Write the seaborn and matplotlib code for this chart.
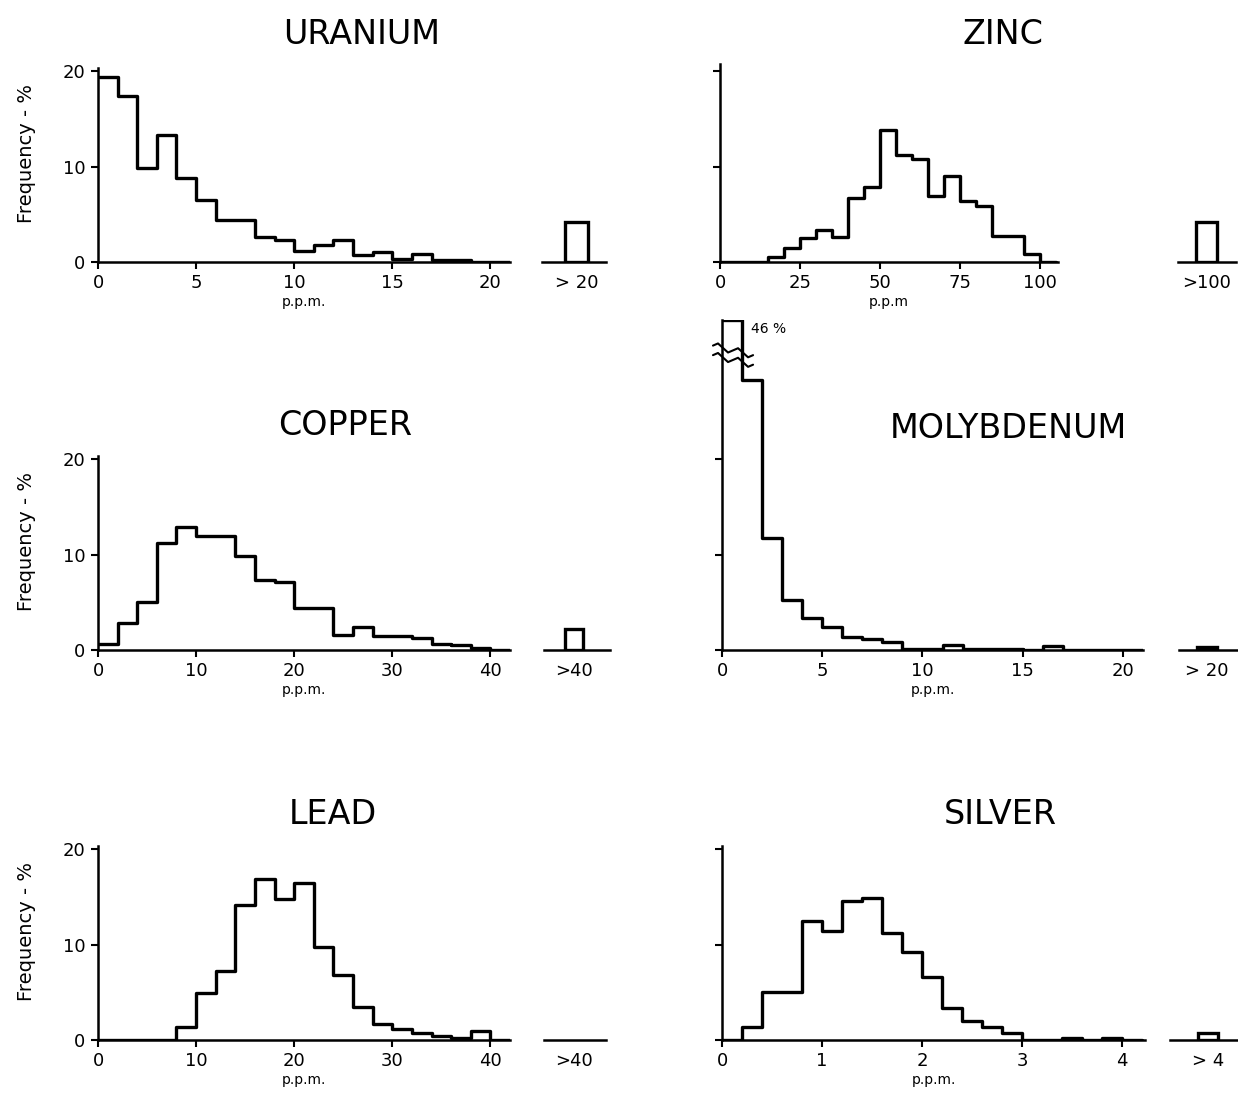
import numpy as np
import pandas as pd
import matplotlib
matplotlib.use("Agg")
import matplotlib.pyplot as plt
import seaborn as sns

sns.set_theme(style="ticks")
plt.rcParams["font.family"] = ["DejaVu Sans"]
plt.rcParams["text.color"] = "black"
plt.rcParams["axes.labelcolor"] = "black"
plt.rcParams["xtick.color"] = "black"
plt.rcParams["ytick.color"] = "black"

# ---------------- data (frequency %, per bin) ----------------
uranium_edges = [float(v) for v in range(0, 22)]
uranium_freq = [19.4, 17.4, 9.8, 13.3, 8.8, 6.5, 4.4, 4.4, 2.6, 2.3, 1.2,
                1.75, 2.3, 0.7, 1.0, 0.35, 0.8, 0.2, 0.2, 0.0, 0.0]
uranium_over = 4.2

zinc_edges = [float(v) for v in range(0, 110, 5)]
zinc_freq = [0, 0, 0, 0.5, 1.5, 2.5, 3.4, 2.6, 6.7, 7.9, 13.8, 11.2, 10.8,
             6.9, 9.0, 6.4, 5.9, 2.7, 2.7, 0.85, 0.0]
zinc_over = 4.2

copper_edges = [float(v) for v in range(0, 44, 2)]
copper_freq = [0.6, 2.8, 5.0, 11.2, 12.9, 11.9, 11.9, 9.8, 7.3, 7.1, 4.35,
               4.35, 1.6, 2.4, 1.5, 1.5, 1.3, 0.65, 0.5, 0.25, 0.05]
copper_over = 2.2

moly_edges = [float(v) for v in range(0, 22)]
moly_freq = [46, 28.3, 11.7, 5.2, 3.3, 2.4, 1.4, 1.2, 0.85, 0.1, 0.1, 0.5,
             0.1, 0.1, 0.1, 0.0, 0.4, 0.0, 0.0, 0.0, 0.0]
moly_over = 0.35

lead_edges = [float(v) for v in range(0, 44, 2)]
lead_freq = [0, 0, 0, 0, 1.4, 4.9, 7.2, 14.1, 16.9, 14.8, 16.4, 9.7, 6.8,
             3.45, 1.7, 1.2, 0.7, 0.45, 0.25, 0.9, 0.0]
lead_over = 0.0

silver_edges = [round(0.2 * i, 1) for i in range(22)]
silver_freq = [0, 1.4, 5.0, 5.0, 12.5, 11.4, 14.6, 14.9, 11.2, 9.2, 6.6, 3.4,
               2.0, 1.4, 0.7, 0.0, 0.0, 0.25, 0.0, 0.25, 0.0]
silver_over = 0.7

uranium_ticks = [0, 5, 10, 15, 20]
zinc_ticks = [0, 25, 50, 75, 100]
copper_ticks = [0, 10, 20, 30, 40]
moly_ticks = [0, 5, 10, 15, 20]
lead_ticks = [0, 10, 20, 30, 40]
silver_ticks = [0, 1, 2, 3, 4]
y_ticks = [0, 10, 20]

# ---------------- layout helpers (pixels) ----------------
W, H = 1238, 1107
fig = plt.figure(figsize=(W / 100, H / 100), dpi=100)
PX_PER_PCT = 9.55
LW = 2.4


def px_axes(x0, x1, ybase, ytop):
    return fig.add_axes([x0 / W, (H - ybase) / H, (x1 - x0) / W, (ybase - ytop) / H])


def draw_panel(name, edges, freq, over, over_lbl, ticks, xmax, x0, x1,
               ybase, ymax, title_xy, ylabels, ox0, ox1, bar0, bar1,
               xlabel="p.p.m.", over_fill=False, cap=None):
    ytop = ybase - ymax * PX_PER_PCT
    ax = px_axes(x0, x1, ybase, ytop)
    e = [float(v) for v in edges]
    centers = [(a + b) / 2 for a, b in zip(e[:-1], e[1:])]
    heights = [float(v) for v in freq]
    if cap is not None:
        heights = [min(h, cap) for h in heights]
    df = pd.DataFrame({"ppm": centers, "freq": heights})
    sns.histplot(data=df, x="ppm", weights="freq", bins=e, element="step",
                 fill=False, color="black", linewidth=LW, ax=ax, stat="count")
    ax.set_xlim(0, xmax)
    ax.set_ylim(0, ymax)
    ax.set_xticks(ticks)
    ax.set_xticklabels([str(t) for t in ticks], fontsize=13)
    ax.set_yticks(y_ticks)
    if ylabels:
        ax.set_yticklabels([str(t) for t in y_ticks], fontsize=13)
        ax.set_ylabel("Frequency - %", fontsize=14)
        ax.yaxis.set_label_coords(-(x0 - 36) / (x1 - x0), 0.56)
    else:
        ax.set_yticklabels([])
        ax.set_ylabel("")
    ax.set_xlabel(xlabel, fontsize=10, labelpad=2)
    sns.despine(ax=ax)
    for s in ("left", "bottom"):
        ax.spines[s].set_linewidth(1.8)
        ax.spines[s].set_color("black")
    ax.tick_params(axis="both", direction="out", length=5, width=1.5,
                   colors="black", pad=4)
    ax.patch.set_alpha(0)

    # overflow axis
    oax = px_axes(ox0, ox1, ybase, ytop)
    unit = bar1 - bar0
    oxlim = ((ox0 - bar0) / unit, (ox1 - bar0) / unit)
    if over > 0:
        odf = pd.DataFrame({"bin": [0.5], "freq": [over]})
        sns.histplot(data=odf, x="bin", weights="freq", bins=[0.0, 1.0],
                     element="bars", fill=over_fill, color="black",
                     edgecolor="black", linewidth=LW, alpha=1, ax=oax,
                     stat="count")
    oax.set_xlim(*oxlim)
    oax.set_ylim(0, ymax)
    oax.set_xticks([0.5])
    oax.set_xticklabels([over_lbl], fontsize=13)
    oax.set_yticks([])
    oax.set_ylabel("")
    oax.set_xlabel("")
    sns.despine(ax=oax, left=True)
    oax.spines["bottom"].set_linewidth(1.8)
    oax.spines["bottom"].set_color("black")
    oax.tick_params(axis="x", length=0, pad=9, colors="black")
    oax.patch.set_alpha(0)

    fig.text(title_xy[0] / W, 1 - title_xy[1] / H, name, ha="center",
             va="center", fontsize=24, color="black")
    return ax


# Row 1
draw_panel("URANIUM", uranium_edges, uranium_freq, uranium_over, "> 20",
           uranium_ticks, 21.0, 98, 510, 262, 20.3, (362, 35), True,
           542, 606, 565, 588)
draw_panel("ZINC", zinc_edges, zinc_freq, zinc_over, ">100",
           zinc_ticks, 105.6, 720, 1058, 262, 20.7, (1003, 35), False,
           1178, 1236, 1196, 1217, xlabel="p.p.m")
# Row 2
draw_panel("COPPER", copper_edges, copper_freq, copper_over, ">40",
           copper_ticks, 42.0, 98, 510, 650, 20.3, (345, 425), True,
           544, 610, 565, 583)
MO_YMAX = 34.6
mo_ax = draw_panel("MOLYBDENUM", moly_edges, moly_freq, moly_over, "> 20",
                   moly_ticks, 21.0, 722, 1143, 650, MO_YMAX, (1008, 428), False,
                   1179, 1237, 1197, 1217, over_fill=True, cap=MO_YMAX)
# broken-bar annotation
mo_ax.text(1.45, MO_YMAX - 0.3, "46 %", fontsize=10, va="top", ha="left")
for yb in (31.4, 30.4):
    xs = np.linspace(-0.45, 1.55, 9)
    ys = yb + 0.35 * np.sin(np.linspace(0, 4 * np.pi, 9)) - 0.5 * (xs - 0.5)
    mo_ax.plot(xs, ys, color="black", lw=1.5, clip_on=False, zorder=5)
# Row 3
draw_panel("LEAD", lead_edges, lead_freq, lead_over, ">40",
           lead_ticks, 42.0, 98, 510, 1040, 20.3, (333, 815), True,
           544, 606, 565, 583)
draw_panel("SILVER", silver_edges, silver_freq, silver_over, "> 4",
           silver_ticks, 4.23, 722, 1145, 1040, 20.3, (1000, 815), False,
           1170, 1237, 1198, 1218)

fig.savefig("out.png", dpi=100, facecolor="white")
